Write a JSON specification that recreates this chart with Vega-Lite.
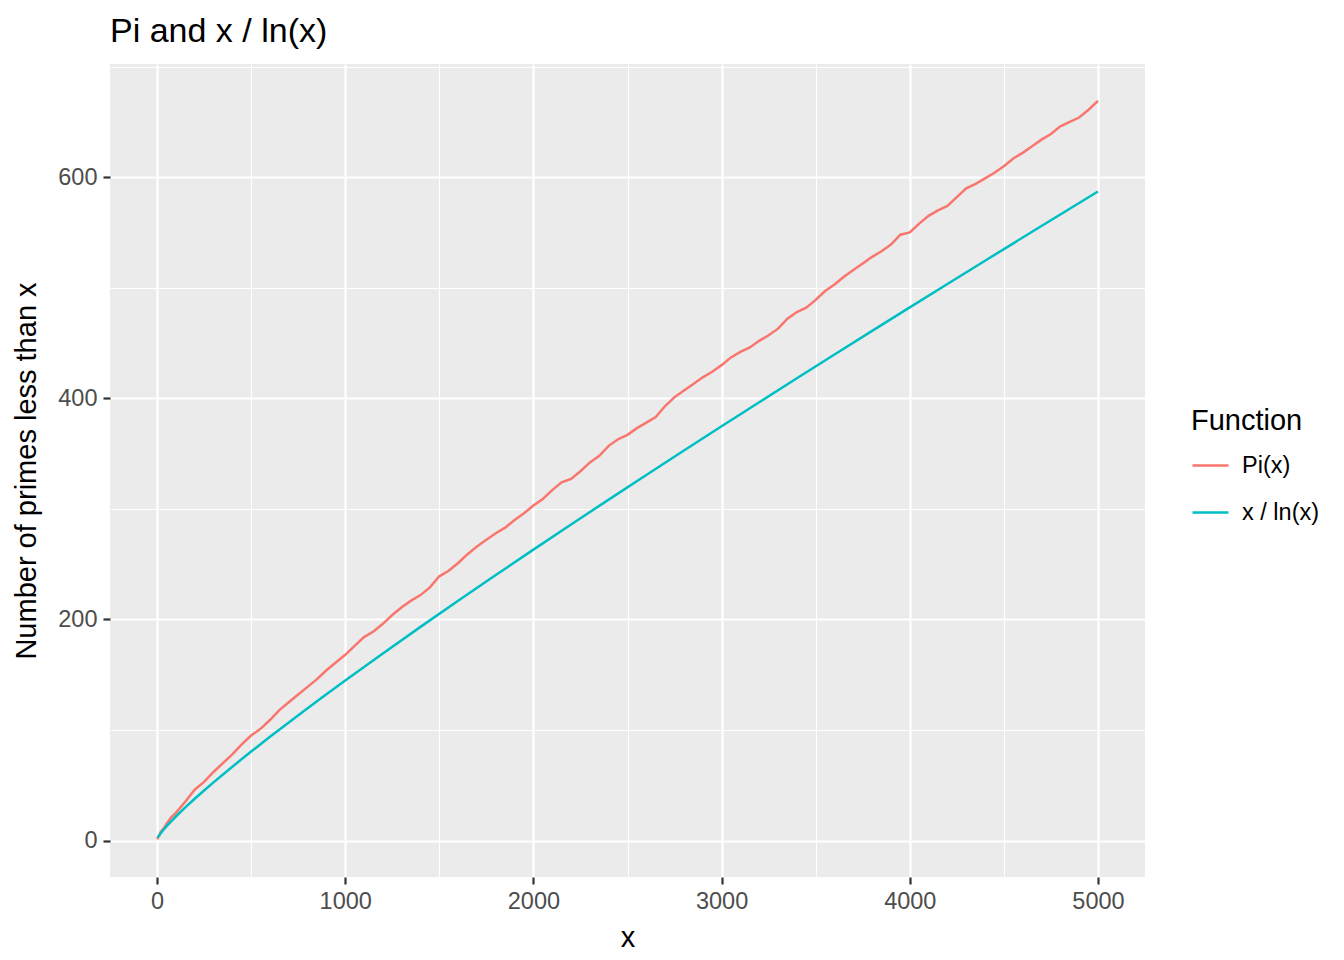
{
  "$schema": "https://vega.github.io/schema/vega-lite/v6.json",
  "width": 1035,
  "height": 813,
  "autosize": {"type": "none"},
  "padding": {"left": 110, "top": 64, "right": 199, "bottom": 83},
  "background": "white",
  "title": {"text": "Pi and x / ln(x)", "anchor": "start", "frame": "group", "fontSize": 34, "font": "Liberation Sans", "fontWeight": "normal", "color": "black", "baseline": "alphabetic", "offset": -12},
  "config": {"view": {"fill": "#EBEBEB", "stroke": null}, "font": "Liberation Sans"},
  "datasets": {
    "pi": [
      {"x":2,"y":1},{"x":5,"y":3},{"x":10,"y":4},{"x":20,"y":8},{"x":30,"y":10},{"x":40,"y":12},{"x":50,"y":15},{"x":75,"y":21},{"x":100,"y":25},{"x":150,"y":35},{"x":200,"y":46},{"x":250,"y":53},{"x":300,"y":62},{"x":350,"y":70},{"x":400,"y":78},{"x":450,"y":87},{"x":500,"y":95},{"x":550,"y":101},{"x":600,"y":109},{"x":650,"y":118},{"x":700,"y":125},{"x":750,"y":132},{"x":800,"y":139},{"x":850,"y":146},{"x":900,"y":154},{"x":950,"y":161},{"x":1000,"y":168},{"x":1050,"y":176},{"x":1100,"y":184},{"x":1150,"y":189},{"x":1200,"y":196},{"x":1250,"y":204},{"x":1300,"y":211},{"x":1350,"y":217},{"x":1400,"y":222},{"x":1450,"y":229},{"x":1500,"y":239},{"x":1550,"y":244},{"x":1600,"y":251},{"x":1650,"y":259},{"x":1700,"y":266},{"x":1750,"y":272},{"x":1800,"y":278},{"x":1850,"y":283},{"x":1900,"y":290},{"x":1950,"y":296},{"x":2000,"y":303},{"x":2050,"y":309},{"x":2100,"y":317},{"x":2150,"y":324},{"x":2200,"y":327},{"x":2250,"y":334},{"x":2300,"y":342},{"x":2350,"y":348},{"x":2400,"y":357},{"x":2450,"y":363},{"x":2500,"y":367},{"x":2550,"y":373},{"x":2600,"y":378},{"x":2650,"y":383},{"x":2700,"y":393},{"x":2750,"y":401},{"x":2800,"y":407},{"x":2850,"y":413},{"x":2900,"y":419},{"x":2950,"y":424},{"x":3000,"y":430},{"x":3050,"y":437},{"x":3100,"y":442},{"x":3150,"y":446},{"x":3200,"y":452},{"x":3250,"y":457},{"x":3300,"y":463},{"x":3350,"y":472},{"x":3400,"y":478},{"x":3450,"y":482},{"x":3500,"y":489},{"x":3550,"y":497},{"x":3600,"y":503},{"x":3650,"y":510},{"x":3700,"y":516},{"x":3750,"y":522},{"x":3800,"y":528},{"x":3850,"y":533},{"x":3900,"y":539},{"x":3950,"y":548},{"x":4000,"y":550},{"x":4050,"y":558},{"x":4100,"y":565},{"x":4150,"y":570},{"x":4200,"y":574},{"x":4250,"y":582},{"x":4300,"y":590},{"x":4350,"y":594},{"x":4400,"y":599},{"x":4450,"y":604},{"x":4500,"y":610},{"x":4550,"y":617},{"x":4600,"y":622},{"x":4650,"y":628},{"x":4700,"y":634},{"x":4750,"y":639},{"x":4800,"y":646},{"x":4850,"y":650},{"x":4900,"y":654},{"x":4950,"y":661},{"x":5000,"y":669}
    ],
    "xlnx": [
      {"x":2,"y":2.885},{"x":5,"y":3.107},{"x":10,"y":4.343},{"x":20,"y":6.676},{"x":30,"y":8.820},{"x":40,"y":10.843},{"x":50,"y":12.781},{"x":75,"y":17.371},{"x":100,"y":21.715},{"x":150,"y":29.936},{"x":200,"y":37.748},{"x":250,"y":45.277},{"x":300,"y":52.597},{"x":400,"y":66.762},{"x":500,"y":80.455},{"x":600,"y":93.796},{"x":700,"y":106.852},{"x":800,"y":119.678},{"x":900,"y":132.306},{"x":1000,"y":144.765},{"x":1200,"y":169.25},{"x":1400,"y":193.26},{"x":1600,"y":216.87},{"x":1800,"y":240.14},{"x":2000,"y":263.13},{"x":2200,"y":285.85},{"x":2400,"y":308.35},{"x":2600,"y":330.65},{"x":2800,"y":352.76},{"x":3000,"y":374.70},{"x":3200,"y":396.49},{"x":3400,"y":418.13},{"x":3600,"y":439.63},{"x":3800,"y":461.01},{"x":4000,"y":482.27},{"x":4200,"y":503.43},{"x":4400,"y":524.47},{"x":4600,"y":545.42},{"x":4800,"y":566.28},{"x":5000,"y":587.05}
    ]
  },
  "layer": [
    {
      "data": {"name": "pi"},
      "transform": [{"calculate": "'Pi(x)'", "as": "Function"}],
      "mark": {"type": "line", "strokeWidth": 2.5},
      "encoding": {
        "x": {"field": "x", "type": "quantitative"},
        "y": {"field": "y", "type": "quantitative"},
        "color": {"field": "Function", "type": "nominal"}
      }
    },
    {
      "data": {"name": "xlnx"},
      "transform": [{"calculate": "'x / ln(x)'", "as": "Function"}],
      "mark": {"type": "line", "strokeWidth": 2.5},
      "encoding": {
        "x": {"field": "x", "type": "quantitative"},
        "y": {"field": "y", "type": "quantitative"},
        "color": {"field": "Function", "type": "nominal"}
      }
    }
  ],
  "encoding": {
    "x": {
      "field": "x", "type": "quantitative",
      "scale": {"domain": [-250, 5250], "nice": false, "zero": false},
      "axis": {
        "values": [0,500,1000,1500,2000,2500,3000,3500,4000,4500,5000],
        "format": "d",
        "labelExpr": "datum.value % 1000 === 0 ? datum.label : ''",
        "grid": true, "gridColor": "white",
        "gridWidth": {"condition": {"test": "datum.value % 1000 === 0", "value": 2.2}, "value": 1.1},
        "tickOpacity": {"condition": {"test": "datum.value % 1000 === 0", "value": 1}, "value": 0},
        "tickColor": "#333333", "tickWidth": 2.2, "tickSize": 7,
        "domain": false,
        "labelColor": "#4D4D4D", "labelFontSize": 23.5, "labelPadding": 5, "labelFont": "Liberation Sans",
        "title": "x", "titleFontSize": 29, "titleColor": "black", "titleFontWeight": "normal", "titlePadding": 11, "titleFont": "Liberation Sans"
      }
    },
    "y": {
      "field": "y", "type": "quantitative",
      "scale": {"domain": [-33, 702.4], "nice": false, "zero": false},
      "axis": {
        "values": [0,100,200,300,400,500,600,700],
        "labelExpr": "datum.value % 200 === 0 ? datum.label : ''",
        "grid": true, "gridColor": "white",
        "gridWidth": {"condition": {"test": "datum.value % 200 === 0", "value": 2.2}, "value": 1.1},
        "tickOpacity": {"condition": {"test": "datum.value % 200 === 0", "value": 1}, "value": 0},
        "tickColor": "#333333", "tickWidth": 2.2, "tickSize": 7,
        "domain": false,
        "labelColor": "#4D4D4D", "labelFontSize": 23.5, "labelPadding": 6, "labelFont": "Liberation Sans",
        "title": "Number of primes less than x", "titleFontSize": 29, "titleColor": "black", "titleFontWeight": "normal", "titlePadding": 16, "titleFont": "Liberation Sans"
      }
    },
    "color": {
      "field": "Function", "type": "nominal",
      "scale": {"domain": ["Pi(x)", "x / ln(x)"], "range": ["#F8766D", "#00BFC4"]},
      "legend": {
        "orient": "none", "legendX": 1081, "legendY": 343,
        "title": "Function", "titleFontSize": 29, "titleColor": "black", "titleFontWeight": "normal", "titleFont": "Liberation Sans", "titlePadding": 10,
        "labelFontSize": 23.5, "labelColor": "black", "labelFont": "Liberation Sans", "labelOffset": 12,
        "symbolType": "stroke", "symbolSize": 1296, "symbolStrokeWidth": 2.5, "rowPadding": 16
      }
    }
  }
}
